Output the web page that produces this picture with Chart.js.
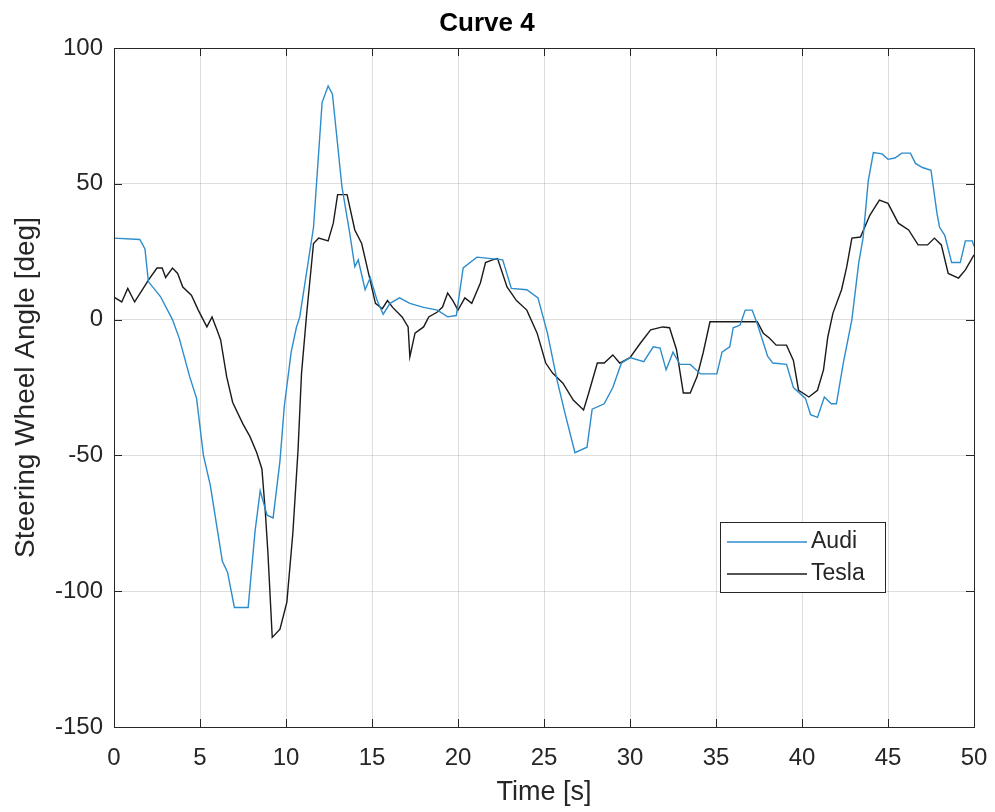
<!DOCTYPE html>
<html>
<head>
<meta charset="utf-8">
<script src="https://cdn.jsdelivr.net/npm/chart.js@4.4.1/dist/chart.umd.min.js"></script>
<style>
  html, body { margin: 0; padding: 0; background: #fff; }
  #wrap { width: 995px; height: 812px; }
</style>
</head>
<body>
<div id="wrap"><canvas id="curva"></canvas></div>
<script>
// datos
const audiTime = [0, 1.5, 1.8, 2.0, 2.7, 3.4, 3.8, 4.4, 4.8, 5.2, 5.6, 6.3, 6.6, 7.0, 7.8, 8.2, 8.5, 8.9, 9.25, 9.65, 9.9, 10.3, 10.6, 10.8, 11.6, 12.1, 12.45, 12.7, 13.25, 13.7, 14.0, 14.2, 14.6, 14.9, 15.3, 15.65, 16.05, 16.6, 17.2, 18.0, 18.8, 19.4, 19.9, 20.3, 21.1, 22.6, 23.1, 24.0, 24.65, 25.2, 25.75, 26.2, 26.8, 27.5, 27.8, 28.5, 29.0, 29.5, 30.0, 30.8, 31.35, 31.75, 32.1, 32.5, 32.9, 33.5, 34.1, 35.05, 35.35, 35.8, 36.0, 36.4, 36.7, 37.1, 37.4, 38.0, 38.3, 39.1, 39.5, 40.2, 40.5, 40.9, 41.3, 41.7, 42.0, 42.4, 42.9, 43.3, 43.55, 43.85, 44.15, 44.65, 45.0, 45.4, 45.8, 46.3, 46.6, 47.0, 47.5, 47.85, 48.0, 48.3, 48.7, 49.2, 49.5, 49.9, 50];
const audiAngle = [30, 29.5, 26, 14, 8.5, 0, -7, -21, -29, -50, -61, -89, -93, -106, -106, -78, -63, -72, -73, -52, -32, -12, -3, 1, 34, 80, 86, 83, 49, 32, 19.5, 22, 11, 15.5, 7, 2, 6, 8, 6, 4.5, 3.5, 1, 1.5, 19, 23, 22, 11.5, 11, 8, -5, -22, -34, -49, -47, -33, -31, -25, -16, -14, -15.5, -10, -10.5, -18.5, -12, -16.5, -16.5, -20, -20, -12, -10, -3, -2, 3.5, 3.5, -1.5, -13.5, -16, -16.5, -25, -29, -35, -36, -28.5, -31, -31, -16, 0, 21, 30, 51, 61.5, 61, 59, 59.5, 61.3, 61.3, 57.5, 56, 55, 39, 34, 31, 21, 21, 29, 29, 27];

const teslaTime = [0, 0.45, 0.8, 1.2, 1.7, 2.0, 2.5, 2.8, 3.0, 3.4, 3.7, 4.0, 4.5, 4.9, 5.4, 5.7, 6.0, 6.2, 6.55, 6.9, 7.5, 7.9, 8.3, 8.6, 8.8, 8.95, 9.2, 9.65, 10.05, 10.4, 10.7, 10.9, 11.2, 11.6, 11.9, 12.45, 12.75, 13.0, 13.55, 14.0, 14.4, 14.8, 15.2, 15.6, 15.9, 16.2, 16.75, 17.1, 17.2, 17.5, 18.0, 18.3, 18.8, 19.1, 19.4, 19.7, 20.0, 20.4, 20.8, 21.3, 21.6, 22.0, 22.3, 22.85, 23.4, 24.0, 24.6, 25.1, 25.5, 26.1, 26.7, 27.3, 27.6, 28.1, 28.5, 29.0, 29.4, 30.0, 30.6, 31.2, 31.9, 32.3, 32.7, 33.1, 33.5, 33.9, 34.25, 34.65, 35.2, 37.4, 37.75, 38.1, 38.5, 39.1, 39.5, 39.8, 40.4, 40.9, 41.25, 41.5, 41.8, 42.3, 42.6, 42.9, 43.4, 43.95, 44.5, 45.0, 45.6, 46.2, 46.75, 47.3, 47.7, 48.1, 48.5, 49.1, 49.5, 50];
const teslaAngle = [8.3, 6.5, 11.5, 6.5, 11.5, 14.5, 19, 19, 15.5, 19, 17, 12, 9, 3.5, -2.7, 1, -4, -7.5, -21, -30.5, -38.5, -43, -49, -55, -71, -86, -117, -114, -104, -78.5, -48, -20, 2, 28, 30, 29, 35.5, 46, 46, 33, 28, 17, 6, 4, 7, 4.5, 1, -2.7, -13.7, -5, -2.7, 1, 2.8, 4.6, 9.8, 7, 3.5, 8, 6, 13.5, 21, 22, 22.5, 12, 7, 3.5, -5, -16, -19.7, -23.4, -29.6, -33.3, -27, -16, -16, -13, -16, -14, -8.7, -3.8, -2.7, -3, -11, -27, -27, -21, -12.3, -0.8, -0.8, -0.8, -5, -6.8, -9.4, -9.4, -15, -26, -28.5, -26, -18.5, -6.4, 2.4, 11, 19.4, 30, 30.4, 38.5, 44, 42.8, 35.5, 33, 27.5, 27.5, 30, 27.5, 17, 15.3, 18.3, 23.8];

const xTicks = [0, 5, 10, 15, 20, 25, 30, 35, 40, 45, 50];
const yTicks = [-150, -100, -50, 0, 50, 100];

const fuente = '"Liberation Sans", Arial, sans-serif';
const toPoints = (t, v) => t.map((x, i) => ({x: x, y: v[i]}));

// marco, ticks hacia dentro y leyenda estilo matlab
const marcoMatlab = {
  id: 'marcoMatlab',
  afterDraw(chart) {
    const {ctx, chartArea: a, scales} = chart;
    ctx.save();
    ctx.strokeStyle = '#262626';
    ctx.lineWidth = 1;
    ctx.beginPath();
    xTicks.forEach(t => {
      const px = Math.round(scales.x.getPixelForValue(t)) + 0.5;
      ctx.moveTo(px, a.bottom); ctx.lineTo(px, a.bottom - 8);
      ctx.moveTo(px, a.top); ctx.lineTo(px, a.top + 8);
    });
    yTicks.forEach(t => {
      const py = Math.round(scales.y.getPixelForValue(t)) + 0.5;
      ctx.moveTo(a.left, py); ctx.lineTo(a.left + 8, py);
      ctx.moveTo(a.right, py); ctx.lineTo(a.right - 8, py);
    });
    ctx.stroke();
    ctx.strokeRect(Math.round(a.left) + 0.5, Math.round(a.top) + 0.5, Math.round(a.right - a.left), Math.round(a.bottom - a.top));

    // leyenda
    const lx = 720, ly = 522, lw = 165, lh = 70;
    ctx.fillStyle = '#fff';
    ctx.fillRect(lx, ly, lw, lh);
    ctx.strokeStyle = '#262626';
    ctx.strokeRect(lx + 0.5, ly + 0.5, lw, lh);
    ctx.font = '23px ' + fuente;
    ctx.textBaseline = 'middle';
    chart.data.datasets.forEach((ds, i) => {
      const y = ly + 20 + i * 32;
      ctx.strokeStyle = ds.borderColor;
      ctx.lineWidth = 1.4;
      ctx.beginPath();
      ctx.moveTo(lx + 7, y); ctx.lineTo(lx + 87, y);
      ctx.stroke();
      ctx.fillStyle = '#262626';
      ctx.fillText(ds.label, lx + 91, y);
    });
    ctx.restore();
  }
};

const ctx = document.getElementById('curva');
let grafico = new Chart(ctx, {
  type: 'line',
  data: {
    datasets: [{
      label: 'Audi',
      data: toPoints(audiTime, audiAngle),
      borderColor: '#2c8ccc',
      borderWidth: 1.4,
      pointRadius: 0,
      tension: 0
    }, {
      label: 'Tesla',
      data: toPoints(teslaTime, teslaAngle),
      borderColor: '#1a1a1a',
      borderWidth: 1.4,
      pointRadius: 0,
      tension: 0
    }]
  },
  plugins: [marcoMatlab],
  options: {
    responsive: true,
    maintainAspectRatio: false,
    animation: false,
    layout: {
      padding: {left: 0, right: 21, top: 0, bottom: 0}
    },
    plugins: {
      legend: { display: false },
      tooltip: { enabled: false },
      title: {
        display: true,
        text: 'Curve 4',
        color: '#000',
        font: { family: fuente, size: 26, weight: 'bold' },
        padding: { top: 8, bottom: 8.8 }
      }
    },
    scales: {
      x: {
        type: 'linear',
        min: 0,
        max: 50,
        afterBuildTicks: s => { s.ticks = xTicks.map(v => ({value: v})); },
        afterFit: s => { s.height = 85; s.paddingLeft = 0; s.paddingRight = 0; },
        grid: { color: 'rgba(0,0,0,0.13)', drawTicks: false },
        border: { display: false },
        ticks: {
          color: '#262626',
          padding: 17,
          maxRotation: 0,
          font: { family: fuente, size: 24 }
        },
        title: {
          display: true,
          text: 'Time [s]',
          color: '#262626',
          padding: { top: 0, bottom: 3 },
          font: { family: fuente, size: 27 }
        }
      },
      y: {
        min: -150,
        max: 100,
        afterBuildTicks: s => { s.ticks = yTicks.map(v => ({value: v})); },
        afterFit: s => { s.width = 114; },
        grid: { color: 'rgba(0,0,0,0.13)', drawTicks: false },
        border: { display: false },
        ticks: {
          color: '#262626',
          padding: 11,
          font: { family: fuente, size: 24 }
        },
        title: {
          display: true,
          text: 'Steering Wheel Angle [deg]',
          color: '#262626',
          padding: { top: 9, bottom: 0 },
          font: { family: fuente, size: 28 }
        }
      }
    }
  }
});
</script>
</body>
</html>
